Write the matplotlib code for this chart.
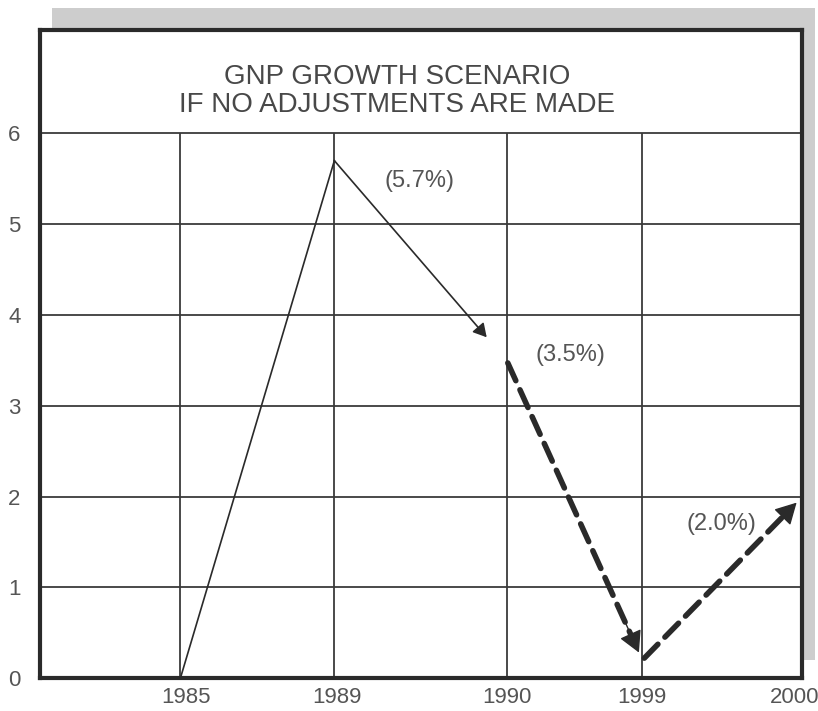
import matplotlib.pyplot as plt
from matplotlib.patches import Rectangle
from matplotlib.transforms import ScaledTranslation

# GNP growth path, % per year
years = ["1985", "1989", "1990", "1999", "2000"]
growth = [0.0, 5.7, 3.5, 0.2, 2.0]
labels = ["", "(5.7%)", "(3.5%)", "", "(2.0%)"]
# uneven column spacing of the hand-drawn grid
col_pos = [0.92, 1.93, 3.06, 3.95, 5.0]
y_ticks = [0, 1, 2, 3, 4, 5, 6]

ink = "#2a2a2a"
grey_txt = "#555555"
plt.rcParams['font.family'] = ['Liberation Sans', 'DejaVu Sans']

fig = plt.figure(figsize=(8.18, 7.11), dpi=100)
ax = fig.add_axes([0.049, 0.046, 0.932, 0.912])

# drop shadow behind the frame
fig.patches.append(Rectangle((0.064, 0.072), 0.932, 0.917, transform=fig.transFigure,
                             facecolor="#cdcdcd", edgecolor="none", zorder=-5))

ax.set_facecolor("white")
ax.set_xlim(0, 5.0)
ax.set_ylim(0, 7.14)

for s in ax.spines.values():
    s.set_linewidth(3.0)
    s.set_color(ink)

# grid: rows across the full width, columns only up to 6
ax.hlines(y_ticks[1:], 0, 5.0, color="#3a3a3a", lw=1.3, zorder=1)
ax.vlines(col_pos[:-1], 0, 6, color="#3a3a3a", lw=1.3, zorder=1)

ax.set_yticks(y_ticks)
ax.set_yticklabels([str(v) for v in y_ticks], color=grey_txt, fontsize=16)
ax.set_xticks(col_pos)
ax.set_xticklabels(years, color=grey_txt, fontsize=16)
ax.tick_params(axis='y', length=0, pad=14)
ax.tick_params(axis='x', length=0, pad=6)
# nudge year labels a little right, keep the last one inside the figure
for lab, dx in zip(ax.get_xticklabels(), [6, 3, 0, 0, -8]):
    lab.set_transform(lab.get_transform() + ScaledTranslation(dx / 100, 0, fig.dpi_scale_trans))

# 1985 -> 1989 plain line
ax.plot(col_pos[:2], growth[:2], color=ink, lw=1.2, zorder=3)

# 1989 -> 1990 thin arrow
ax.annotate("", xy=(col_pos[2], growth[2]), xytext=(col_pos[1], growth[1]),
            arrowprops=dict(arrowstyle="-|>,head_length=0.8,head_width=0.45",
                            color=ink, lw=1.2, shrinkA=0, shrinkB=22), zorder=3)

# projected path: thick dashed shafts with solid heads
for i in (2, 3):
    x0, y0 = col_pos[i], growth[i]
    x1, y1 = col_pos[i + 1], growth[i + 1]
    ax.annotate("", xy=(x1, y1), xytext=(x0, y0),
                arrowprops=dict(arrowstyle="-", color=ink, lw=4.0,
                                linestyle=(0, (3.5, 1.8)), shrinkA=2, shrinkB=16), zorder=3)
    xm, ym = x1 - 0.12 * (x1 - x0), y1 - 0.12 * (y1 - y0)
    ax.annotate("", xy=(x1, y1), xytext=(xm, ym),
                arrowprops=dict(arrowstyle="-|>,head_length=1.1,head_width=0.6",
                                color=ink, lw=1.0, mutation_scale=12,
                                shrinkA=0, shrinkB=6), zorder=3)

label_xy = {1: (2.49, 5.48), 2: (3.48, 3.56), 4: (4.47, 1.70)}
for i, (lx, ly) in label_xy.items():
    ax.text(lx, ly, labels[i], ha="center", va="center", fontsize=17, color=grey_txt)

ax.text(2.34, 6.47, "GNP GROWTH SCENARIO\nIF NO ADJUSTMENTS ARE MADE",
        ha="center", va="center", fontsize=20, color="#484848", linespacing=1.12)

fig.savefig("out.png", dpi=100)
